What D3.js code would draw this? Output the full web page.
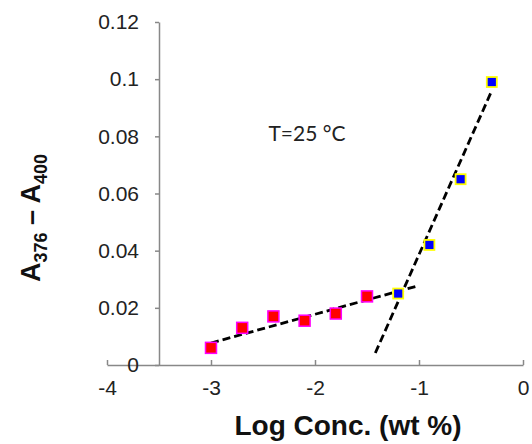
<!DOCTYPE html>
<html>
<head>
<meta charset="utf-8">
<script src="https://cdn.jsdelivr.net/npm/d3@7"></script>
<style>
  body { margin: 0; background: #fff; }
  .axis text { font-family: "Liberation Sans", Arial, sans-serif; font-size: 21px; fill: #222; }
  .axis path, .axis line { stroke: #888; stroke-width: 1.5; }
</style>
</head>
<body>
<script>
// log concentration (wt %) and A376 - A400
const lowX = [-3, -2.7, -2.4, -2.1, -1.8, -1.5]
const lowY = [0.006, 0.013, 0.017, 0.0155, 0.018, 0.024]
const highX = [-1.2, -0.9, -0.6, -0.3]
const highY = [0.025, 0.042, 0.065, 0.099]

// dashed fit lines, end points
const fitLowX = [-3, -1]
const fitLowY = [0.0077, 0.0278]
const fitHighX = [-1.42, -0.3]
const fitHighY = [0.0042, 0.096]

const xTicks = [-4, -3, -2, -1, 0]
const yTicks = [0, 0.02, 0.04, 0.06, 0.08, 0.1, 0.12]

document.addEventListener('DOMContentLoaded', init)

function init() {
  var width = 532, height = 444;

  var x = d3.scaleLinear().domain([-4, 0]).range([107, 523]);
  var y = d3.scaleLinear().domain([0, 0.12]).range([365, 22]);

  var svg = d3.select('body').append('svg')
      .attr('width', width)
      .attr('height', height);

  // x axis, ticks pointing up
  svg.append('g')
    .attr('class', 'axis')
    .attr('transform', 'translate(0,' + y(0) + ')')
    .call(d3.axisBottom(x).tickValues(xTicks).tickSizeInner(-5).tickSizeOuter(0).tickPadding(15)
      .tickFormat(d => String(d)));

  // y axis crossing at x = -3.5
  svg.append('g')
    .attr('class', 'axis')
    .attr('transform', 'translate(' + x(-3.5) + ',0)')
    .call(d3.axisLeft(y).tickValues(yTicks).tickSizeInner(4).tickSizeOuter(0).tickPadding(16)
      .tickFormat(d => String(+d.toFixed(2))));

  var line = d3.line().x(d => x(d[0])).y(d => y(d[1]));

  // fit lines
  svg.append('path')
    .datum(d3.zip(fitLowX, fitLowY))
    .attr('fill', 'none')
    .attr('stroke', '#000')
    .attr('stroke-width', 2.8)
    .attr('stroke-dasharray', '8,4')
    .attr('d', line);

  svg.append('path')
    .datum(d3.zip(fitHighX, fitHighY))
    .attr('fill', 'none')
    .attr('stroke', '#000')
    .attr('stroke-width', 2.8)
    .attr('stroke-dasharray', '8,4')
    .attr('d', line);

  // points
  var s1 = 11;
  svg.append('g').selectAll('rect')
    .data(d3.zip(lowX, lowY))
    .enter().append('rect')
    .attr('x', d => x(d[0]) - s1 / 2)
    .attr('y', d => y(d[1]) - s1 / 2)
    .attr('width', s1)
    .attr('height', s1)
    .attr('fill', '#ff0000')
    .attr('stroke', '#ff00ff')
    .attr('stroke-width', 1.5);

  var s2 = 10;
  svg.append('g').selectAll('rect')
    .data(d3.zip(highX, highY))
    .enter().append('rect')
    .attr('x', d => x(d[0]) - s2 / 2)
    .attr('y', d => y(d[1]) - s2 / 2)
    .attr('width', s2)
    .attr('height', s2)
    .attr('fill', '#0000ff')
    .attr('stroke', '#ffff00')
    .attr('stroke-width', 1.8);

  // annotation
  svg.append('text')
    .attr('x', 307)
    .attr('y', 141)
    .attr('text-anchor', 'middle')
    .style('font-family', 'Lato, "Open Sans", sans-serif')
    .style('font-size', '21px')
    .attr('fill', '#222')
    .text('T=25 °C');

  // axis titles
  svg.append('text')
    .attr('x', 348)
    .attr('y', 435)
    .attr('text-anchor', 'middle')
    .style('font-family', '"Liberation Sans", Arial, sans-serif')
    .style('font-size', '28px')
    .style('font-weight', 'bold')
    .attr('fill', '#111')
    .text('Log Conc. (wt %)');

  var yt = svg.append('text')
    .attr('transform', 'translate(40,218) rotate(-90)')
    .attr('text-anchor', 'middle')
    .style('font-family', '"Liberation Sans", Arial, sans-serif')
    .style('font-size', '27px')
    .style('font-weight', 'bold')
    .attr('fill', '#111');
  yt.append('tspan').text('A');
  yt.append('tspan').attr('dy', 7).style('font-size', '18px').text('376');
  yt.append('tspan').attr('dy', -7).text(' \u2013 A');
  yt.append('tspan').attr('dy', 7).style('font-size', '18px').text('400');
}
</script>
</body>
</html>
